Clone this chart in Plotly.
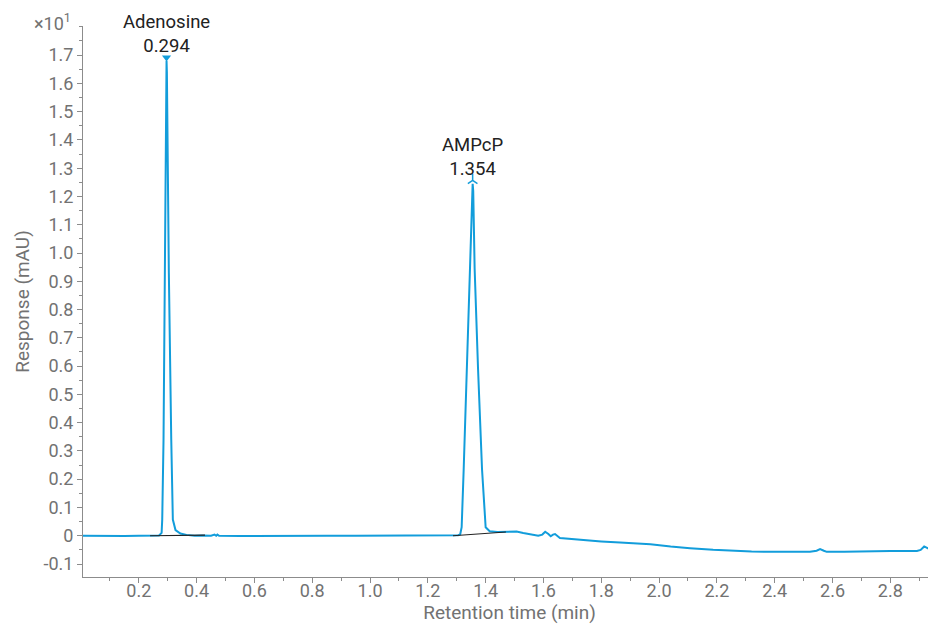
import plotly.graph_objects as go

# Chromatogram trace (displayed units: response x10^1 mAU)
time_min = [0.007, 0.05, 0.10, 0.15, 0.20, 0.25, 0.270, 0.279, 0.2811, 0.2856, 0.2901, 0.2924, 0.2936, 0.2948, 0.296,
            0.2972, 0.2984, 0.3005, 0.304, 0.3123, 0.3178, 0.327, 0.344, 0.365, 0.393, 0.42, 0.45, 0.462, 0.468,
            0.472, 0.478, 0.55, 0.65, 0.75, 0.85, 0.95, 1.05, 1.15, 1.25, 1.29, 1.305, 1.312, 1.317,
            1.324, 1.3342, 1.3446, 1.351, 1.353, 1.355, 1.357, 1.3585, 1.3619, 1.3737, 1.3875, 1.400, 1.414, 1.44,
            1.48, 1.507, 1.53, 1.554, 1.582, 1.596, 1.606, 1.617, 1.625, 1.633, 1.640, 1.657, 1.70,
            1.761, 1.80, 1.865, 1.90, 1.97, 2.04, 2.073, 2.107, 2.187, 2.256, 2.32, 2.384, 2.45, 2.522,
            2.545, 2.557, 2.57, 2.58, 2.64, 2.70, 2.742, 2.80, 2.892, 2.905, 2.917, 2.93, 2.943, 2.958]
response = [0.000, -0.001, 0.000, -0.001, 0.000, 0.001, 0.001, 0.010, 0.057, 0.34, 0.93, 1.20, 1.52, 1.64, 1.68,
            1.64, 1.52, 1.20, 0.93, 0.34, 0.057, 0.020, 0.008, 0.003, 0.000, 0.001, 0.000, 0.004, 0.000,
            0.004, 0.000, -0.001, 0.000, 0.000, 0.000, 0.000, 0.000, 0.000, 0.000, 0.000, 0.002, 0.005, 0.030,
            0.234, 0.59, 0.944, 1.15, 1.22, 1.245, 1.22, 1.15, 0.944, 0.59, 0.234, 0.030, 0.016, 0.013,
            0.013, 0.015, 0.010, 0.006, 0.000, 0.004, 0.014, 0.006, -0.002, 0.004, 0.006, -0.008, -0.012,
            -0.017, -0.020, -0.024, -0.026, -0.030, -0.038, -0.040, -0.044, -0.050, -0.054, -0.056, -0.057, -0.057, -0.057,
            -0.053, -0.047, -0.053, -0.057, -0.057, -0.055, -0.054, -0.054, -0.054, -0.050, -0.038, -0.046, -0.051, -0.052]

# Integration baselines
base1_t = [0.239, 0.429]
base1_v = [0.000, 0.002]
base2_t = [1.287, 1.470]
base2_v = [0.000, 0.013]

# Peaks
peak_names = ["Adenosine", "AMPcP"]
peak_rt_labels = ["0.294", "1.354"]
peak_t = [0.296, 1.355]
peak_v = [1.68, 1.245]

x_ticks = [0.2, 0.4, 0.6, 0.8, 1.0, 1.2, 1.4, 1.6, 1.8, 2.0, 2.2, 2.4, 2.6, 2.8]
x_tick_text = ["0.2", "0.4", "0.6", "0.8", "1.0", "1.2", "1.4", "1.6", "1.8", "2.0", "2.2", "2.4", "2.6", "2.8"]
y_ticks = [-0.1, 0, 0.1, 0.2, 0.3, 0.4, 0.5, 0.6, 0.7, 0.8, 0.9, 1.0, 1.1, 1.2, 1.3, 1.4, 1.5, 1.6, 1.7]
y_tick_text = ["-0.1", "0", "0.1", "0.2", "0.3", "0.4", "0.5", "0.6", "0.7", "0.8", "0.9", "1.0",
               "1.1", "1.2", "1.3", "1.4", "1.5", "1.6", "1.7"]

BLUE = "#129ddb"
AXIS = "#8c8c8c"
TXT = "#727272"
FONT = "Roboto"

fig = go.Figure()
fig.add_trace(go.Scatter(x=time_min, y=response, mode="lines",
                         line=dict(color=BLUE, width=2), hoverinfo="skip"))
fig.add_trace(go.Scatter(x=base1_t, y=base1_v, mode="lines",
                         line=dict(color="#222222", width=1.1), hoverinfo="skip"))
fig.add_trace(go.Scatter(x=base2_t, y=base2_v, mode="lines",
                         line=dict(color="#222222", width=1.1), hoverinfo="skip"))
# peak markers
fig.add_trace(go.Scatter(x=[peak_t[0]], y=[peak_v[0] + 0.012], mode="markers",
                         marker=dict(symbol="triangle-down", size=8, color=BLUE), hoverinfo="skip"))
fig.add_trace(go.Scatter(x=[peak_t[1]], y=[peak_v[1] + 0.012], mode="markers",
                         marker=dict(symbol="y-up-open", size=8, color=BLUE,
                                     line=dict(color=BLUE, width=1.5)), hoverinfo="skip"))

for name, lab, t, v in zip(peak_names, peak_rt_labels, peak_t, peak_v):
    fig.add_annotation(x=t, y=v, text=f"{name}<br>{lab}", showarrow=False,
                       yanchor="bottom", yshift=2, font=dict(family=FONT, size=18.5, color="#222222"))

fig.add_annotation(xref="paper", yref="paper", x=0, y=1, xanchor="right", yanchor="middle",
                   xshift=-10, yshift=4, text="×10<sup>1</sup>", showarrow=False,
                   font=dict(family=FONT, size=18, color=TXT))

fig.update_layout(
    width=928, height=616, plot_bgcolor="white", paper_bgcolor="white",
    margin=dict(l=75, r=0, t=18, b=47), showlegend=False,
    font=dict(family=FONT, size=18, color=TXT),
    xaxis=dict(range=[0.007, 2.958], tickmode="array", tickvals=x_ticks, ticktext=x_tick_text,
               ticks="outside", ticklen=5, tickcolor=AXIS, showline=True, linecolor=AXIS, linewidth=1,
               showgrid=False, zeroline=False, tickfont=dict(size=18, color=TXT), automargin=False,
               ticklabelstandoff=-8,
               minor=dict(tickmode="linear", tick0=0, dtick=0.1, ticks="outside", ticklen=3, tickcolor=AXIS, showgrid=False),
               title=dict(text="Retention time (min)", font=dict(size=19, color=TXT), standoff=2)),
    yaxis=dict(range=[-0.146, 1.803], tickmode="array", tickvals=y_ticks, ticktext=y_tick_text,
               ticks="outside", ticklen=5, tickcolor=AXIS, showline=True, linecolor=AXIS, linewidth=1,
               showgrid=False, zeroline=False, tickfont=dict(size=18, color=TXT), automargin=False,
               minor=dict(tickmode="linear", tick0=0, dtick=0.05, ticks="outside", ticklen=3, tickcolor=AXIS, showgrid=False),
               title=dict(text="Response (mAU)", font=dict(size=19, color=TXT), standoff=8)),
)

fig.write_html("out.html")
